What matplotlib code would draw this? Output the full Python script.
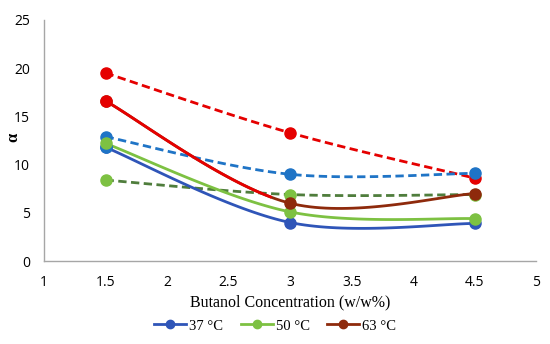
import numpy as np
import matplotlib.pyplot as plt
from matplotlib.lines import Line2D

# ===============================
# DATA
# ===============================
conc = [1.5, 3.0, 4.5]

# solid lines
alpha_37 = [11.8, 4.0, 3.9]
alpha_50 = [12.2, 5.1, 4.4]
alpha_63 = [16.6, 6.0, 7.0]

# dashed lines
alpha_37_d = [12.9, 9.0, 9.1]
alpha_50_d = [8.4, 6.9, 6.9]
alpha_63_d = [19.5, 13.3, 8.6]

legend_labels = ["37 °C", "50 °C", "63 °C"]
x_ticks = [1, 1.5, 2, 2.5, 3, 3.5, 4, 4.5, 5]
y_ticks = [0, 5, 10, 15, 20, 25]


# ===============================
# HELPERS
# ===============================
def smooth(xs, ys, n=40):
    # excel style smoothed line (bezier through the points)
    xs = np.asarray(xs, float)
    ys = np.asarray(ys, float)
    px, py = [], []
    for i in range(len(xs) - 1):
        i0 = max(i - 1, 0)
        i3 = min(i + 2, len(xs) - 1)
        c1x = xs[i] + (xs[i + 1] - xs[i0]) / 6
        c1y = ys[i] + (ys[i + 1] - ys[i0]) / 6
        c2x = xs[i + 1] - (xs[i3] - xs[i]) / 6
        c2y = ys[i + 1] - (ys[i3] - ys[i]) / 6
        t = np.linspace(0, 1, n)
        a, b, c, d = (1 - t) ** 3, 3 * t * (1 - t) ** 2, 3 * t ** 2 * (1 - t), t ** 3
        px.extend(a * xs[i] + b * c1x + c * c2x + d * xs[i + 1])
        py.extend(a * ys[i] + b * c1y + c * c2y + d * ys[i + 1])
    return np.array(px), np.array(py)


BLUE = "#2f55b8"
BLUE_M = "#1f74c6"
GREEN = "#7dc142"
DKGREEN = "#4f7d3c"
RED = "#e50000"
DKRED = "#8e2a0c"

fig = plt.figure(figsize=(5.5, 3.44), dpi=100)
ax = fig.add_axes([0.08, 0.241, 0.895, 0.701])

# dashed series
for ys, lc, mc in [(alpha_63_d, RED, RED), (alpha_37_d, BLUE_M, BLUE_M), (alpha_50_d, DKGREEN, GREEN)]:
    sx, sy = smooth(conc, ys)
    ax.plot(sx, sy, color=lc, lw=2, ls=(0, (3, 1.6)), zorder=2)
    ax.plot(conc, ys, "o", color=mc, ms=8, zorder=3)

# solid series
sx, sy = smooth(conc, alpha_37)
ax.plot(sx, sy, color=BLUE, lw=2, zorder=2)
ax.plot(conc, alpha_37, "o", color=BLUE, ms=8, zorder=3)
ax.plot(conc[0], alpha_37[0], "o", color=BLUE_M, ms=8, zorder=3)

sx, sy = smooth(conc, alpha_50)
ax.plot(sx, sy, color=GREEN, lw=2, zorder=2)
ax.plot(conc, alpha_50, "o", color=GREEN, ms=8, zorder=3)

sx, sy = smooth(conc, alpha_63)
ax.plot(sx, sy, color=DKRED, lw=2, zorder=2)
ax.plot(sx[sx <= 2.85], sy[sx <= 2.85], color=RED, lw=2, zorder=2)
ax.plot(conc, alpha_63, "o", color=DKRED, ms=8, zorder=3)
ax.plot(conc[0], alpha_63[0], "o", color=RED, ms=8, zorder=3)

# ===============================
# AXES
# ===============================
ax.set_xlim(1, 5)
ax.set_ylim(0, 25)
ax.set_xticks(x_ticks)
ax.set_xticklabels([f"{v:g}" for v in x_ticks], fontfamily="Open Sans", fontsize=10)
ax.set_yticks(y_ticks)
ax.set_yticklabels([str(v) for v in y_ticks], fontfamily="Open Sans", fontsize=10)
ax.tick_params(axis="x", length=0, pad=10)
ax.tick_params(axis="y", length=0, pad=10)
for s in ["top", "right"]:
    ax.spines[s].set_visible(False)
for s in ["left", "bottom"]:
    ax.spines[s].set_color("#a6a6a6")
    ax.spines[s].set_linewidth(1)

ax.set_xlabel("Butanol Concentration (w/w%)", fontfamily="Liberation Serif", fontsize=11.5, labelpad=3)
# y label placed by hand so it stays inside the figure
fig.text(0.024, 0.6, "α", fontfamily="Liberation Serif", fontsize=12, fontweight="bold",
         rotation=90, ha="center", va="center")

handles = [Line2D([], [], color=c, lw=2, marker="o", ms=6) for c in [BLUE, GREEN, DKRED]]
fig.legend(handles, legend_labels, loc="lower center", bbox_to_anchor=(0.5, -0.005), ncol=3,
           frameon=False, prop={"family": "Liberation Serif", "size": 10.5},
           handlelength=2.2, handletextpad=0.2, columnspacing=1.2)

fig.savefig("out.png", dpi=100)
